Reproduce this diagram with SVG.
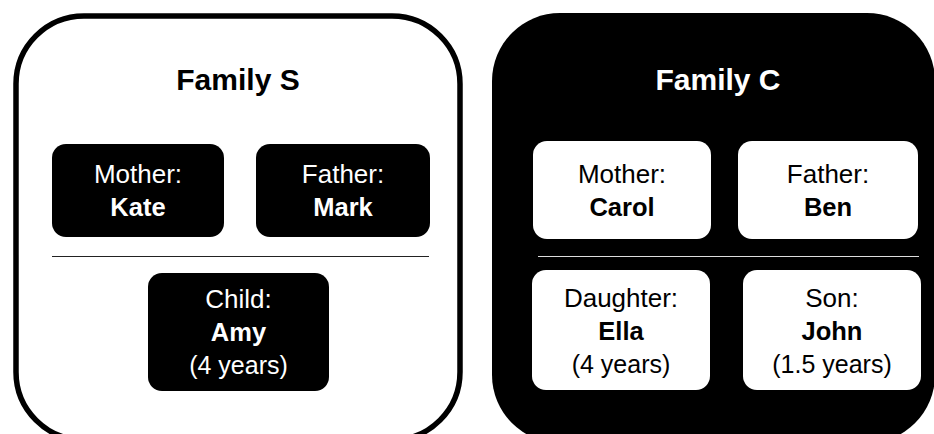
<svg xmlns="http://www.w3.org/2000/svg" width="934" height="434" viewBox="0 0 934 434">
  <style>
    text { font-family: "Liberation Sans", Arial, sans-serif; text-anchor: middle; }
    .title { font-size: 30px; font-weight: bold; }
    .lbl { font-size: 26px; }
    .age { font-size: 25px; }
    .name { font-size: 25.5px; font-weight: bold; }
    .dark rect { fill: #000; }
    .dark text { fill: #fff; }
    .light rect { fill: #fff; }
    .light text { fill: #000; }
  </style>
  <rect width="934" height="434" fill="#fff"/>

  <g id="familyS">
    <rect x="16" y="16" width="444" height="424" rx="68" ry="68" fill="#fff" stroke="#000" stroke-width="5.5"/>
    <text class="title" x="238" y="90" fill="#000">Family S</text>
  </g>

  <g id="familyC">
    <rect x="492" y="13" width="443" height="430" rx="68" ry="68" fill="#000"/>
    <text class="title" x="718" y="90" fill="#fff">Family C</text>
  </g>

  <g id="separators">
    <line x1="52" y1="256.5" x2="429" y2="256.5" stroke="#222" stroke-width="1"/>
    <line x1="538" y1="256.5" x2="919" y2="256.5" stroke="#ddd" stroke-width="1"/>
  </g>

  <g id="s-mother" class="dark">
    <rect x="52" y="144" width="172" height="93" rx="14"/>
    <text class="lbl" x="138" y="183">Mother:</text>
    <text class="name" x="138" y="216">Kate</text>
  </g>
  <g id="s-father" class="dark">
    <rect x="256" y="144" width="174" height="93" rx="14"/>
    <text class="lbl" x="343" y="183">Father:</text>
    <text class="name" x="343" y="216">Mark</text>
  </g>
  <g id="s-child" class="dark">
    <rect x="148" y="273" width="181" height="118" rx="14"/>
    <text class="lbl" x="238.5" y="308">Child:</text>
    <text class="name" x="238.5" y="341">Amy</text>
    <text class="age" x="238.5" y="374">(4 years)</text>
  </g>

  <g id="c-mother" class="light">
    <rect x="533" y="141" width="178" height="98" rx="14"/>
    <text class="lbl" x="622" y="183">Mother:</text>
    <text class="name" x="622" y="216">Carol</text>
  </g>
  <g id="c-father" class="light">
    <rect x="738" y="141" width="180" height="98" rx="14"/>
    <text class="lbl" x="828" y="183">Father:</text>
    <text class="name" x="828" y="216">Ben</text>
  </g>
  <g id="c-daughter" class="light">
    <rect x="532" y="270" width="178" height="120" rx="14"/>
    <text class="lbl" x="621" y="307">Daughter:</text>
    <text class="name" x="621" y="340">Ella</text>
    <text class="age" x="621" y="373">(4 years)</text>
  </g>
  <g id="c-son" class="light">
    <rect x="743" y="270" width="178" height="120" rx="14"/>
    <text class="lbl" x="832" y="307">Son:</text>
    <text class="name" x="832" y="340">John</text>
    <text class="age" x="832" y="373">(1.5 years)</text>
  </g>
</svg>
